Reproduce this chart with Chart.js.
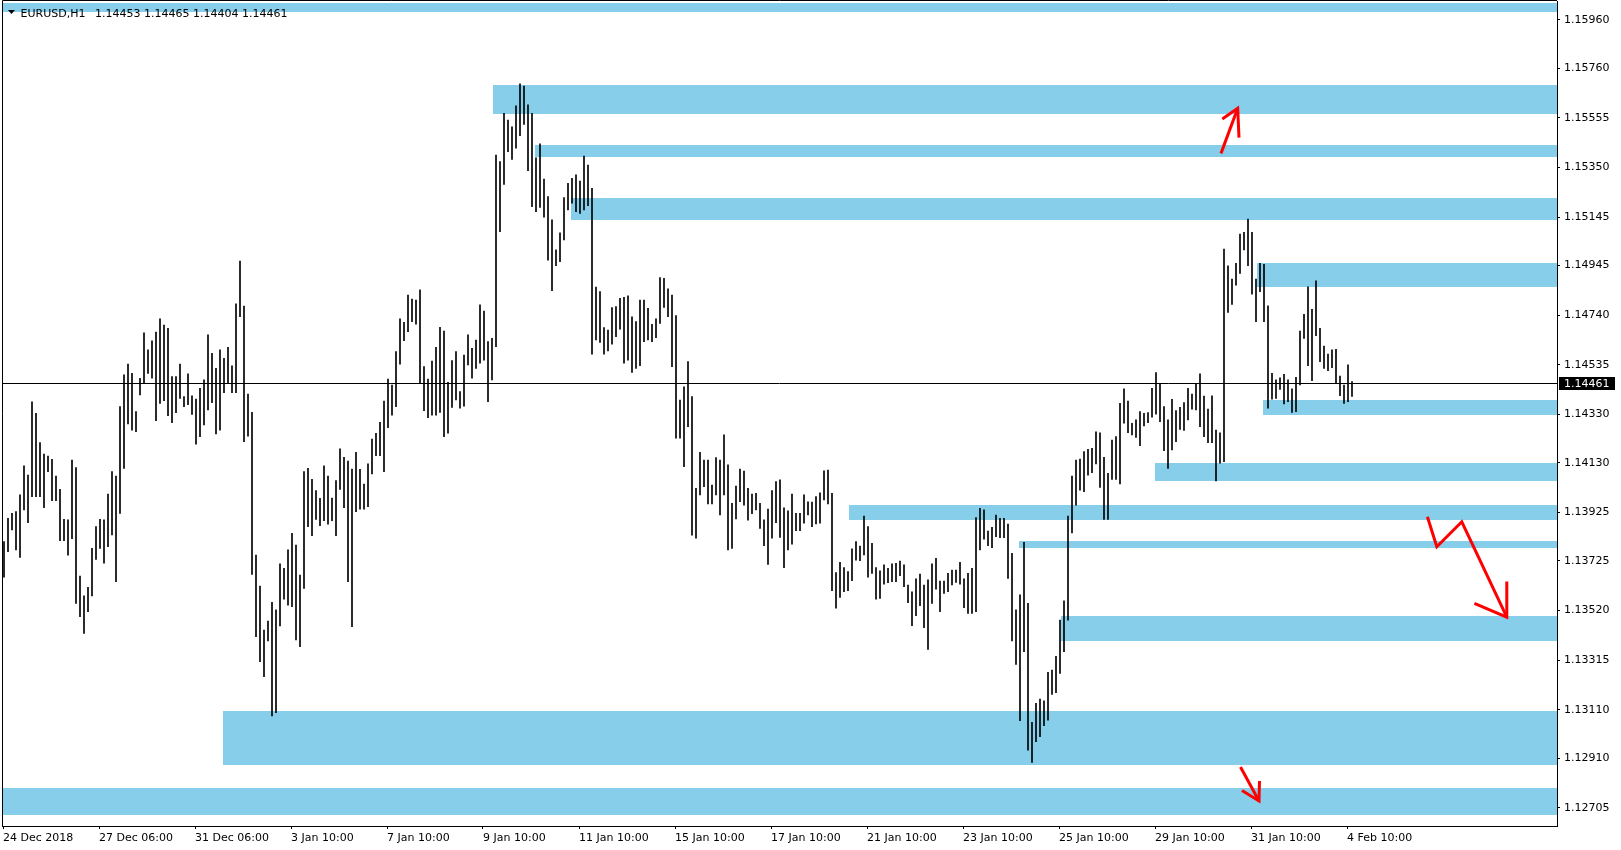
<!DOCTYPE html>
<html lang="en">
<head>
<meta charset="UTF-8">
<title>EURUSD,H1</title>
<script src="https://cdn.jsdelivr.net/npm/chart.js"></script>
<style>
  html, body { margin: 0; padding: 0; background: #fff; }
  canvas { display: block; }
</style>
</head>
<body>
<canvas id="chart" width="1621" height="850"></canvas>
<script>
const symbol = 'EURUSD,H1';
const lastOHLC = '1.14453 1.14465 1.14404 1.14461';
const currentPrice = 1.14461;

// each entry = high / low of two consecutive H1 bars, oldest first
const highs = [
  1.13804,1.13900,1.13921,1.13928,1.13997,1.14117,1.14079,1.14382,1.14334,1.14213,
  1.14166,1.14158,1.14144,1.14075,1.14020,1.13896,1.13894,1.14141,1.14110,1.13662,
  1.13580,1.13615,1.13776,1.13866,1.13896,1.13894,1.14001,1.14093,1.14075,1.14362,
  1.14493,1.14538,1.14499,1.14341,1.14479,1.14667,1.14596,1.14634,1.14670,1.14724,
  1.14699,1.14685,1.14486,1.14486,1.14538,1.14403,1.14497,1.14406,1.14393,1.14437,
  1.14472,1.14658,1.14582,1.14520,1.14596,1.14561,1.14607,1.14530,1.14786,1.14963,
  1.14777,1.14414,1.14338,1.13749,1.13621,1.13439,1.13476,1.13553,1.13522,1.13712,
  1.13694,1.13770,1.13838,1.13790,1.13666,1.14093,1.14107,1.14061,1.14015,1.13983,
  1.14117,1.14075,1.13984,1.14056,1.14187,1.14152,1.14137,1.14104,1.14173,1.14103,
  1.14042,1.14125,1.14228,1.14252,1.14297,1.14385,1.14476,1.14451,1.14589,1.14724,
  1.14710,1.14823,1.14806,1.14802,1.14844,1.14527,1.14476,1.14550,1.14607,1.14689,
  1.14674,1.14462,1.14552,1.14589,1.14424,1.14575,1.14658,1.14603,1.14637,1.14782,
  1.14757,1.14630,1.14644,1.15401,1.15374,1.15573,1.15546,1.15518,1.15604,1.15695,
  1.15686,1.15608,1.15573,1.15390,1.15447,1.15302,1.15229,1.15133,1.15009,1.15080,
  1.15225,1.15284,1.15305,1.15319,1.15294,1.15397,1.15360,1.15264,1.14856,1.14837,
  1.14688,1.14678,1.14771,1.14775,1.14809,1.14813,1.14820,1.14733,1.14713,1.14802,
  1.14802,1.14768,1.14702,1.14724,1.14895,1.14892,1.14848,1.14823,1.14738,1.14389,
  1.14444,1.14548,1.14403,1.14024,1.14173,1.14141,1.14141,1.14038,1.14151,1.14141,
  1.14245,1.14121,1.13962,1.14034,1.14104,1.14096,1.14024,1.14001,1.14004,1.13962,
  1.13894,1.13939,1.14015,1.14052,1.14059,1.13944,1.13931,1.14001,1.13921,1.13921,
  1.13997,1.13969,1.13967,1.13990,1.14006,1.14097,1.14100,1.14004,1.13676,1.13719,
  1.13697,1.13680,1.13774,1.13804,1.13786,1.13910,1.13866,1.13797,1.13697,1.13684,
  1.13708,1.13694,1.13712,1.13714,1.13724,1.13708,1.13625,1.13597,1.13650,1.13670,
  1.13625,1.13646,1.13712,1.13735,1.13641,1.13641,1.13673,1.13687,1.13687,1.13719,
  1.13650,1.13673,1.13694,1.13903,1.13942,1.13935,1.13848,1.13863,1.13914,1.13900,
  1.13900,1.13877,1.13756,1.13522,1.13584,1.13801,1.13549,1.13058,1.13136,1.13154,
  1.13146,1.13264,1.13274,1.13330,1.13480,1.13560,1.13910,1.14075,1.14141,1.14145,
  1.14176,1.14185,1.14190,1.14258,1.14254,1.14152,1.14086,1.14224,1.14238,1.14375,
  1.14435,1.14385,1.14293,1.14307,1.14341,1.14334,1.14337,1.14437,1.14502,1.14455,
  1.14362,1.14307,1.14392,1.14345,1.14359,1.14379,1.14437,1.14414,1.14455,1.14497,
  1.14405,1.14352,1.14406,1.14265,1.14254,1.15013,1.14943,1.14889,1.14954,1.15075,
  1.15082,1.15137,1.15082,1.14889,1.14954,1.14950,1.14778,1.14499,1.14472,1.14481,
  1.14495,1.14472,1.14435,1.14483,1.14674,1.14743,1.14857,1.14764,1.14881,1.14685,
  1.14612,1.14579,1.14596,1.14598,1.14488,1.14451,1.14534,1.14465
];
const lows = [
  1.13657,1.13763,1.13852,1.13770,1.13739,1.13935,1.13882,1.13990,1.13990,1.13990,
  1.13944,1.14093,1.13973,1.13973,1.13808,1.13808,1.13748,1.13816,1.13549,1.13494,
  1.13425,1.13515,1.13580,1.13731,1.13776,1.13715,1.13783,1.13832,1.13639,1.13921,
  1.14107,1.14290,1.14265,1.14258,1.14410,1.14461,1.14499,1.14479,1.14304,1.14375,
  1.14386,1.14324,1.14296,1.14337,1.14396,1.14362,1.14370,1.14330,1.14207,1.14238,
  1.14286,1.14348,1.14378,1.14249,1.14265,1.14419,1.14458,1.14419,1.14419,1.14733,
  1.14217,1.14240,1.13669,1.13412,1.13308,1.13246,1.13394,1.13084,1.13098,1.13456,
  1.13566,1.13542,1.13535,1.13398,1.13370,1.13611,1.13866,1.13829,1.13896,1.13870,
  1.13891,1.13876,1.13891,1.13829,1.14020,1.13944,1.13639,1.13453,1.13928,1.13938,
  1.13938,1.13949,1.14084,1.14159,1.14159,1.14093,1.14275,1.14327,1.14362,1.14537,
  1.14634,1.14671,1.14713,1.14702,1.14461,1.14345,1.14316,1.14327,1.14327,1.14338,
  1.14238,1.14252,1.14358,1.14389,1.14355,1.14364,1.14534,1.14479,1.14520,1.14541,
  1.14554,1.14382,1.14472,1.14609,1.15085,1.15280,1.15415,1.15383,1.15429,1.15481,
  1.15528,1.15336,1.15188,1.15167,1.15185,1.15144,1.14967,1.14841,1.14944,1.14961,
  1.15050,1.15174,1.15202,1.15167,1.15160,1.15174,1.15192,1.14578,1.14637,1.14627,
  1.14578,1.14592,1.14620,1.14651,1.14682,1.14541,1.14554,1.14503,1.14520,1.14531,
  1.14630,1.14637,1.14630,1.14647,1.14706,1.14772,1.14733,1.14527,1.14231,1.14231,
  1.14114,1.14279,1.13831,1.13818,1.13997,1.14031,1.13960,1.13960,1.13997,1.13914,
  1.13997,1.13770,1.13776,1.13898,1.13969,1.13955,1.13893,1.13920,1.13935,1.13859,
  1.13787,1.13710,1.13818,1.13882,1.13822,1.13697,1.13770,1.13794,1.13849,1.13849,
  1.13880,1.13914,1.13866,1.13877,1.13880,1.13976,1.13960,1.13602,1.13529,1.13574,
  1.13597,1.13602,1.13643,1.13728,1.13725,1.13749,1.13657,1.13673,1.13566,1.13570,
  1.13628,1.13635,1.13639,1.13639,1.13664,1.13618,1.13552,1.13457,1.13498,1.13540,
  1.13449,1.13359,1.13549,1.13608,1.13515,1.13590,1.13597,1.13625,1.13636,1.13628,
  1.13531,1.13508,1.13508,1.13515,1.13770,1.13814,1.13787,1.13779,1.13825,1.13820,
  1.13820,1.13652,1.13394,1.13297,1.13065,1.13350,1.12943,1.12892,1.12978,1.12998,
  1.13044,1.13067,1.13173,1.13180,1.13260,1.13350,1.13480,1.13840,1.13955,1.14017,
  1.14011,1.14079,1.14089,1.14125,1.14028,1.13896,1.13896,1.14061,1.14061,1.14042,
  1.14293,1.14254,1.14245,1.14235,1.14201,1.14282,1.14296,1.14318,1.14331,1.14300,
  1.14180,1.14107,1.14183,1.14217,1.14268,1.14263,1.14307,1.14351,1.14348,1.14279,
  1.14238,1.14213,1.14213,1.14055,1.14128,1.14134,1.14751,1.14784,1.14864,1.14912,
  1.15009,1.14944,1.14826,1.14713,1.14837,1.14713,1.14355,1.14393,1.14396,1.14433,
  1.14373,1.14382,1.14338,1.14341,1.14451,1.14644,1.14531,1.14469,1.14655,1.14548,
  1.14520,1.14510,1.14523,1.14458,1.14407,1.14375,1.14382,1.14404
];
const BARS_PER_ENTRY = 2;

const timeLabels = ['24 Dec 2018', '27 Dec 06:00', '31 Dec 06:00', '3 Jan 10:00', '7 Jan 10:00',
  '9 Jan 10:00', '11 Jan 10:00', '15 Jan 10:00', '17 Jan 10:00', '21 Jan 10:00',
  '23 Jan 10:00', '25 Jan 10:00', '29 Jan 10:00', '31 Jan 10:00', '4 Feb 10:00'];
const timeLabelBars = [0, 48, 96, 144, 192, 240, 288, 336, 384, 432, 480, 528, 576, 624, 672];

const priceTicks = [1.15960, 1.15760, 1.15555, 1.15350, 1.15145, 1.14945, 1.14740, 1.14535,
  1.14330, 1.14130, 1.13925, 1.13725, 1.13520, 1.13315, 1.13110, 1.12910, 1.12705];

// support / resistance rectangles (start bar, top price, bottom price), run to the right edge
const zoneStart  = [-0.5, 245, 266, 284, 627, 630, 576, 423, 508, 529, 110, -0.5];
const zoneTop    = [1.16031, 1.15690, 1.15443, 1.15224, 1.14955, 1.14389, 1.14130, 1.13955, 1.13808, 1.13497, 1.13106, 1.12788];
const zoneBottom = [1.15992, 1.15571, 1.15394, 1.15133, 1.14857, 1.14327, 1.14056, 1.13893, 1.13779, 1.13395, 1.12881, 1.12675];

// red arrows as [bar, price] points
const arrowPaths = [
  [[609, 1.15408], [617.35, 1.15594]],
  [[618.75, 1.12873], [628, 1.12733]],
  [[712.2, 1.13907], [716.9, 1.13783], [729.4, 1.13886], [751.9, 1.13492]]
];
const arrowHeads = [
  [[609.65, 1.15550], [617.35, 1.15594], [618, 1.15473]],
  [[619.5, 1.12776], [628, 1.12733], [628.25, 1.12815]],
  [[735.7, 1.13549], [751.9, 1.13492], [751.9, 1.13639]]
];

const FONT = '11px "DejaVu Sans"';
const ZONE_COLOR = '#87CEEB';

const priceBars = highs.map((h, i) => ({ x: i * BARS_PER_ENTRY + 0.5, y: [lows[i], h] }));

const mtPlugin = {
  id: 'mt',
  beforeDatasetsDraw(chart) {
    const { ctx, chartArea: a, scales: { x, y } } = chart;
    ctx.save();
    ctx.fillStyle = ZONE_COLOR;
    zoneStart.forEach((s, i) => {
      const x1 = Math.max(a.left, Math.round(x.getPixelForValue(s)));
      const y1 = Math.round(y.getPixelForValue(zoneTop[i]));
      const y2 = Math.round(y.getPixelForValue(zoneBottom[i]));
      ctx.fillRect(x1, y1, a.right - x1, y2 - y1);
    });
    ctx.restore();
  },
  afterDatasetsDraw(chart) {
    const { ctx, chartArea: a, scales: { x, y } } = chart;
    ctx.save();
    // current price line
    const py = Math.round(y.getPixelForValue(currentPrice)) + 0.5;
    ctx.strokeStyle = '#000';
    ctx.lineWidth = 1;
    ctx.beginPath();
    ctx.moveTo(a.left, py);
    ctx.lineTo(a.right, py);
    ctx.stroke();

    // arrows
    ctx.strokeStyle = '#ff0000';
    ctx.lineWidth = 3;
    ctx.lineJoin = 'miter';
    [...arrowPaths, ...arrowHeads].forEach(path => {
      ctx.beginPath();
      path.forEach(([b, p], k) => {
        const px = x.getPixelForValue(b), pyy = y.getPixelForValue(p);
        if (k === 0) ctx.moveTo(px, pyy); else ctx.lineTo(px, pyy);
      });
      ctx.stroke();
    });

    // frame
    ctx.strokeStyle = '#000';
    ctx.lineWidth = 1;
    ctx.beginPath();
    ctx.moveTo(a.left + 0.5, a.bottom);
    ctx.lineTo(a.left + 0.5, a.top - 0.5);
    ctx.lineTo(a.right, a.top - 0.5);
    ctx.stroke();

    // header
    ctx.fillStyle = '#000';
    ctx.beginPath();
    ctx.moveTo(8, 10);
    ctx.lineTo(15, 10);
    ctx.lineTo(11.5, 14);
    ctx.closePath();
    ctx.fill();
    ctx.font = FONT;
    ctx.textBaseline = 'middle';
    ctx.textAlign = 'left';
    ctx.fillText(symbol, 20.5, 14);
    ctx.fillText(lastOHLC, 95, 14);
    ctx.restore();
  },
  afterDraw(chart) {
    const { ctx, chartArea: a, scales: { y } } = chart;
    const py = Math.round(y.getPixelForValue(currentPrice));
    ctx.save();
    ctx.fillStyle = '#000';
    ctx.fillRect(a.right + 2, py - 6, 56, 13);
    ctx.fillStyle = '#fff';
    ctx.font = FONT;
    ctx.textBaseline = 'middle';
    ctx.textAlign = 'left';
    ctx.fillText(currentPrice.toFixed(5), a.right + 7, py + 1);
    ctx.restore();
  }
};

new Chart(document.getElementById('chart'), {
  type: 'bar',
  data: {
    datasets: [{
      data: priceBars,
      backgroundColor: '#000',
      borderWidth: 0,
      barThickness: 1,
      grouped: false
    }]
  },
  options: {
    responsive: false,
    animation: false,
    devicePixelRatio: 1,
    layout: { padding: { left: 2, top: 1, right: 0, bottom: 0 } },
    plugins: { legend: { display: false }, tooltip: { enabled: false } },
    scales: {
      x: {
        type: 'linear',
        offset: false,
        min: -0.5,
        max: 777,
        afterFit: s => { s.height = 24; s.paddingLeft = 0; s.paddingRight = 0; },
        afterBuildTicks: s => { s.ticks = timeLabelBars.map(v => ({ value: v })); },
        grid: { display: true, drawOnChartArea: false, offset: false, tickLength: 3, color: '#000' },
        border: { display: true, color: '#000' },
        ticks: {
          autoSkip: false, maxRotation: 0, minRotation: 0, align: 'start', padding: 3,
          color: '#000', font: { family: 'DejaVu Sans', size: 11 },
          callback: (v, i) => timeLabels[i]
        }
      },
      y: {
        position: 'right',
        min: 1.126294,
        max: 1.160374,
        afterFit: s => { s.width = 64; s.paddingTop = 0; s.paddingBottom = 0; },
        afterBuildTicks: s => { s.ticks = priceTicks.map(v => ({ value: v })); },
        grid: { display: true, drawOnChartArea: false, tickLength: 3, color: '#000' },
        border: { display: true, color: '#000' },
        ticks: {
          padding: 4, color: '#000', font: { family: 'DejaVu Sans', size: 11 },
          callback: v => v.toFixed(5)
        }
      }
    }
  },
  plugins: [mtPlugin]
});
</script>
</body>
</html>
